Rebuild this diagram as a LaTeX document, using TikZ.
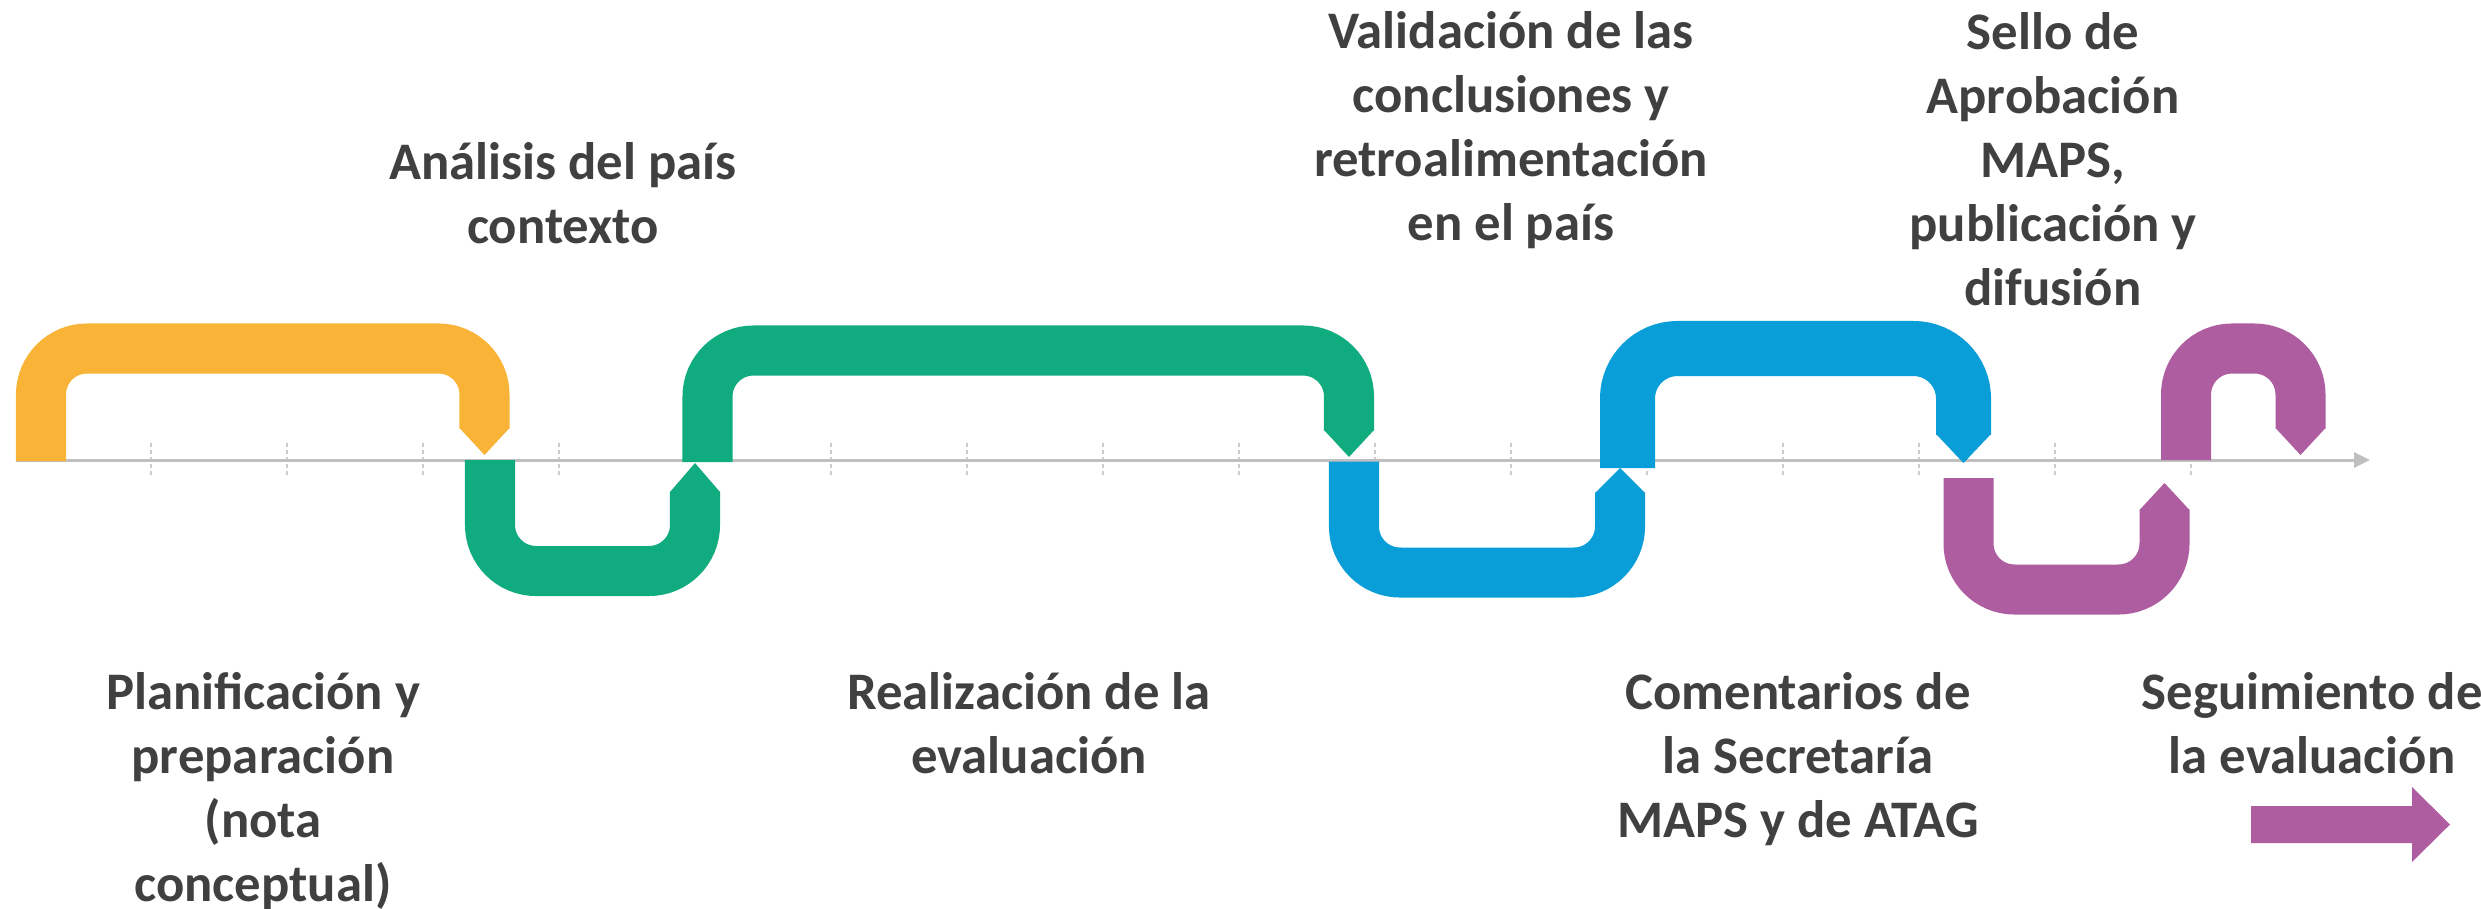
\documentclass[tikz,border=0pt]{standalone}
\usepackage{fontspec}
\setmainfont{Carlito}
\usetikzlibrary{arrows.meta}
\definecolor{mapsorange}{RGB}{249,180,55}
\definecolor{mapsgreen}{RGB}{16,171,127}
\definecolor{mapsblue}{RGB}{10,158,216}
\definecolor{mapspurple}{RGB}{174,94,160}
\definecolor{mapstext}{RGB}{64,64,64}
\definecolor{mapsaxis}{RGB}{191,191,191}
\definecolor{mapstick}{RGB}{205,205,205}
\tikzset{
    band/.style={draw=#1,line width=0.5cm,rounded corners=0.46cm},
    wideband/.style={draw=#1,line width=0.55cm,rounded corners=0.5cm},
    axistick/.style={mapstick,line width=0.5pt,dash pattern=on 0.04cm off 0.03cm},
    phase/.style={font=\fontsize{15}{18.2}\selectfont\bfseries,text=mapstext,align=center,anchor=base,inner sep=0pt}
}

\begin{document}
\begin{tikzpicture}[x=0.01cm,y=-0.01cm]
  \useasboundingbox (0,0) rectangle (2481,908);

  % Time axis
  \foreach \x in {151,287,...,2191}
    \draw[axistick] (\x,443) -- (\x,477);
  \draw[mapsaxis,line width=0.85pt,-{Triangle[length=0.16cm,width=0.15cm]}] (16,460) -- (2370,460);

  % Planificacion
  \draw[band=mapsorange] (41,461) -- (41,348.5) -- (484.5,348.5) -- (484.5,428.5);
  \fill[mapsorange] (459.5,428) -- (509.5,428) -- (484.5,455) -- cycle;

  % Analisis / realizacion
  \draw[band=mapsgreen] (490,460) -- (490,571) -- (695,571) -- (695,491.5);
  \fill[mapsgreen] (670,492) -- (720,492) -- (695,463) -- cycle;
  \draw[band=mapsgreen] (707.5,462) -- (707.5,350.5) -- (1349,350.5) -- (1349,430.5);
  \fill[mapsgreen] (1324,430) -- (1374,430) -- (1349,457) -- cycle;

  % Validacion / comentarios
  \draw[band=mapsblue] (1354,461.5) -- (1354,572.5) -- (1620,572.5) -- (1620,492.5);
  \fill[mapsblue] (1595,493) -- (1645,493) -- (1620,468) -- cycle;
  \draw[wideband=mapsblue] (1627.5,468) -- (1627.5,348.5) -- (1963.5,348.5) -- (1963.5,434.5);
  \fill[mapsblue] (1936,434) -- (1991,434) -- (1963.5,463) -- cycle;

  % Sello / seguimiento
  \draw[band=mapspurple] (1968.5,478) -- (1968.5,589.5) -- (2164.5,589.5) -- (2164.5,509.5);
  \fill[mapspurple] (2139.5,510) -- (2189.5,510) -- (2164.5,483) -- cycle;
  \draw[band=mapspurple] (2186,460) -- (2186,348.5) -- (2300.5,348.5) -- (2300.5,428.5);
  \fill[mapspurple] (2275.5,428) -- (2325.5,428) -- (2300.5,455) -- cycle;
  \fill[mapspurple] (2251,806) -- (2412,806) -- (2412,787) -- (2450,824.5) -- (2412,862) -- (2412,843) -- (2251,843) -- cycle;

  % Labels (anchored on the last baseline)
  \node[phase] (analisis) at (563,243) {Análisis del país\\contexto};
  \node[phase] (validacion) at (1511,240) {Validación de las\\conclusiones y\\retroalimentación\\en el país};
  \node[phase] (sello) at (2053,305) {Sello de\\Aprobación\\MAPS,\\publicación y\\difusión};
  \node[phase] (planificacion) at (263,901) {Planificación y\\preparación\\(nota\\conceptual)};
  \node[phase] (realizacion) at (1029,773) {Realización de la\\evaluación};
  \node[phase] (comentarios) at (1798,837) {Comentarios de\\la Secretaría\\MAPS y de ATAG};
  \node[phase] (seguimiento) at (2312,773) {Seguimiento de\\la evaluación};
\end{tikzpicture}
\end{document}
